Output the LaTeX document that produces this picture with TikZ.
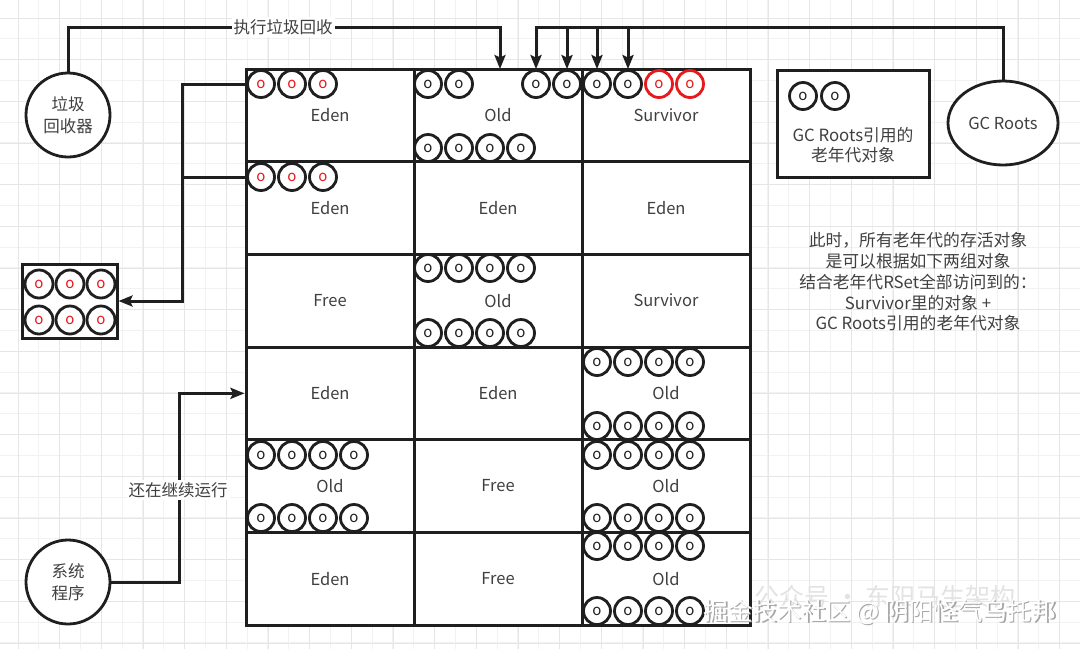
\documentclass[tikz,border=0pt]{standalone}
\usepackage{fontspec}
\setmainfont{Noto Sans CJK SC}
\usetikzlibrary{arrows.meta, positioning, calc, shapes.geometric}
\definecolor{ink}{HTML}{1F1F1F}
\definecolor{txt}{HTML}{404040}
\definecolor{objred}{HTML}{E8191C}
\definecolor{gridmaj}{HTML}{E6E6E6}
\definecolor{gridmin}{HTML}{F2F2F2}

\begin{document}
\begin{tikzpicture}[x=1pt, y=-1pt,
  link/.style={draw=ink, line width=3pt},
  flow/.style={link, -{Stealth[length=14pt, width=11pt, inset=2.5pt]}},
  cell/.style={draw=ink, line width=3pt, fill=white, minimum width=168pt,
               minimum height=92.67pt, inner sep=0pt, text=txt,
               font=\fontsize{16.5}{16.5}\selectfont},
  obj/.style={circle, draw=ink, line width=2.8pt, fill=white, minimum size=27pt,
              inner sep=0pt, text=ink, font=\fontsize{15}{15}\selectfont},
  objr/.style={obj, text=objred},
  objdead/.style={obj, draw=objred, text=objred},
  actor/.style={draw=ink, line width=2.8pt, fill=white, text=txt, align=center,
                inner sep=0pt, font=\fontsize{16.5}{22}\selectfont},
  note/.style={text=txt, align=center, inner sep=1pt,
               font=\fontsize{16.8}{20.8}\selectfont},
  tag/.style={fill=white, text=txt, inner sep=2pt, font=\fontsize{16.5}{16.5}\selectfont},
]
  \useasboundingbox (0,0) rectangle (1080,649);
  \fill[white] (0,0) rectangle (1080,649);

  % background grid
  \foreach \x in {-2.83,18,...,1080}{
    \draw[gridmin, line width=1pt] (\x,0) -- (\x,649);
  }
  \foreach \y in {-2.83,18,...,649}{
    \draw[gridmin, line width=1pt] (0,\y) -- (1080,\y);
  }
  \foreach \x in {18,59.67,...,1080}{
    \draw[gridmaj, line width=1pt] (\x,0) -- (\x,649);
  }
  \foreach \y in {18,59.67,...,649}{
    \draw[gridmaj, line width=1pt] (0,\y) -- (1080,\y);
  }

  % heap regions, row by row
  \foreach \r/\a/\b/\c in {1/Eden/Old/Survivor, 2/Eden/Eden/Eden, 3/Free/Old/Survivor,
                           4/Eden/Eden/Old, 5/Old/Free/Old, 6/Eden/Free/Old}{
    \pgfmathsetmacro{\yc}{69+92.67*(\r-0.5)}
    \node[cell] (c\r-1) at (330,\yc) {\a};
    \node[cell] (c\r-2) at (498,\yc) {\b};
    \node[cell] (c\r-3) at (666,\yc) {\c};
  }

  % young objects in Eden
  \foreach \i/\x in {1/261, 2/292, 3/323}{
    \node[objr] (ea-\i) at (\x,84) {o};
    \node[objr] (eb-\i) at (\x,177) {o};
  }

  % old objects, rows of four
  \foreach \n/\x/\y in {ob1/428/148, oa3/428/268, ob3/428/333,
                        oa4/597/362, ob4/597/426, oa5/261/455, ob5/261/518,
                        oc5/597/455, od5/597/518, oa6/597/546, ob6/597/611}{
    \foreach \i in {0,...,3}
      \node[obj] (\n-\i) at ({\x+31*\i},\y) {o};
  }
  \foreach \i/\x in {0/428, 1/459, 2/536, 3/567}{
    \node[obj] (o1t-\i) at (\x,84) {o};
  }
  % survivor: two live, two dead
  \node[obj] (sv-0) at (597,84) {o};
  \node[obj] (sv-1) at (628,84) {o};
  \node[objdead] (sv-2) at (659,84) {o};
  \node[objdead] (sv-3) at (690,84) {o};

  % actors
  \node[actor, circle, minimum size=84pt] (gcol) at (68,115) {垃圾\\回收器};
  \node[actor, circle, minimum size=84pt] (sys) at (68,582) {系统\\程序};
  \node[actor, ellipse, minimum width=110pt, minimum height=84pt] (roots) at (1003,123) {GC Roots};

  % legend box
  \node[draw=ink, line width=3pt, fill=white, minimum width=152pt,
        minimum height=107pt] (legend) at (853,123.5) {};
  \node[obj] (lg-1) at (803,96) {o};
  \node[obj] (lg-2) at (835,96) {o};
  \node[note] (lgtext) at (853,145) {GC Roots引用的\\老年代对象};

  % collected objects
  \node[draw=ink, line width=3pt, fill=white, minimum width=95pt,
        minimum height=74pt] (bin) at (69.5,301) {};
  \foreach \i/\x in {1/39, 2/70, 3/101}{
    \node[objr, minimum size=28pt] (bt-\i) at (\x,284) {o};
    \node[objr, minimum size=28pt] (bb-\i) at (\x,320) {o};
  }

  % connectors
  \coordinate (top) at (0,27);
  \coordinate (hit) at (500,69);
  \coordinate (jn) at (182,301);
  \draw[flow] (gcol.north) -- (gcol.north |- top) -| (hit);
  \node[tag] (lblgc) at (283,27) {执行垃圾回收};
  \draw[flow] (roots.north) -- (roots.north |- top) -| (o1t-2.north);
  \foreach \t in {o1t-3, sv-0, sv-1}{
    \draw[flow] (\t.north |- top) -- (\t.north);
  }
  \draw[flow] (c1-1.west |- ea-1) -| (jn) -- (bin.east);
  \draw[link] (c2-1.west |- eb-1) -| (jn);
  \draw[flow] (sys.east) -- ++(68,0) |- (c4-1.west);
  \node[tag] (lblrun) at (178,490) {还在继续运行};

  % remark
  \node[note] (remark) at (918,282) {此时，所有老年代的存活对象\\是可以根据如下两组对象\\结合老年代RSet全部访问到的：\\Survivor里的对象 +\\GC Roots引用的老年代对象};

  % watermarks
  \node[text=gray!22, font=\fontsize{25}{25}\selectfont] (wm1) at (885,597) {公众号 · 东阳马生架构};
  \node[text=gray!70, font=\fontsize{24.5}{24.5}\selectfont] (wm2s) at (881.5,613.5) {掘金技术社区 @ 阴阳怪气乌托邦};
  \node[text=white, font=\fontsize{24.5}{24.5}\selectfont] (wm2) at (880,612) {掘金技术社区 @ 阴阳怪气乌托邦};
\end{tikzpicture}
\end{document}
